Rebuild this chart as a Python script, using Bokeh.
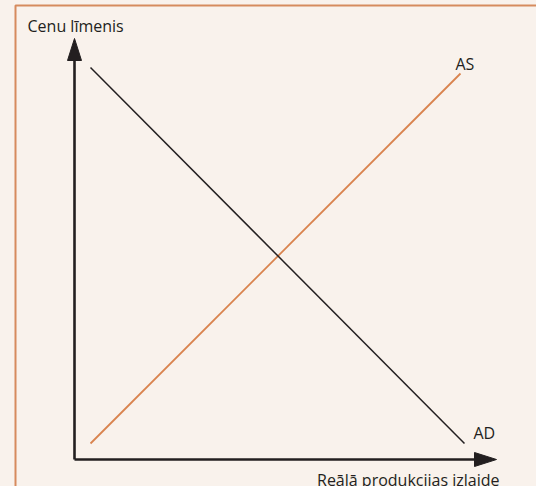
from bokeh.plotting import figure
from bokeh.models import Range1d, Label, GlobalInlineStyleSheet
from bokeh.embed import file_html
from bokeh.resources import INLINE

# ---- data (output, price level) ----
ad_output = [0.4, 9.75]
ad_price = [9.8, 0.4]
as_output = [0.4, 9.65]
as_price = [0.4, 9.65]
axis_output_max = 10.55
axis_price_max = 10.525
curve_names = ["AD", "AS"]
x_title = "Reālā produkcijas izlaide"
y_title = "Cenu līmenis"

# ---- styles ----
BG = "#F9F2EC"
DARK = "#231F20"
ORANGE = "#D9834E"
FRAME = "#D68B5E"
FONT = "Open Sans"
PX = 40.0  # pixels per data unit

p = figure(width=536, height=486,
           x_range=Range1d(-74 / PX, (536 - 74) / PX),
           y_range=Range1d(-(486 - 459) / PX, 459 / PX),
           output_backend="svg", toolbar_location=None,
           x_axis_location=None, y_axis_location=None,
           min_border=0, background_fill_color=BG, border_fill_color=BG,
           outline_line_color=None)
p.grid.visible = False
p.stylesheets = [GlobalInlineStyleSheet(css=f"body{{margin:0;background:{BG};overflow:hidden}}")]

# outer frame (left and top edges; the rest runs off the page)
fx = (15 - 74) / PX
fy = (459 - 5) / PX
p.line([fx, fx, 20], [-20, fy, fy], line_color=FRAME, line_width=2)

# axes with arrow heads
head_len = 22 / PX
head_half = 7 / PX
p.line([0, 0], [0, axis_price_max - head_len * 0.5], line_color=DARK, line_width=2.6)
p.line([0, axis_output_max - head_len * 0.5], [0, 0], line_color=DARK, line_width=2.6)
p.patch([0, -head_half, head_half], [axis_price_max, axis_price_max - head_len, axis_price_max - head_len],
        fill_color=DARK, line_color=DARK, line_width=1)
p.patch([axis_output_max, axis_output_max - head_len, axis_output_max - head_len], [0, head_half, -head_half],
        fill_color=DARK, line_color=DARK, line_width=1)

# curves
p.line(as_output, as_price, line_color=ORANGE, line_width=1.8)
p.line(ad_output, ad_price, line_color=DARK, line_width=1.5)

FS = "16px"
p.add_layout(Label(x=(27 - 74) / PX, y=(459 - 25) / PX, text=y_title, text_font=FONT,
                   text_font_size=FS, text_color=DARK, text_baseline="alphabetic"))
p.add_layout(Label(x=(499 - 74) / PX, y=(459 - 479) / PX, text=x_title, text_font=FONT,
                   text_font_size=FS, text_color=DARK, text_align="right", text_baseline="alphabetic"))
p.add_layout(Label(x=(455 - 74) / PX, y=(459 - 63) / PX, text=curve_names[1], text_font=FONT,
                   text_font_size="16px", text_color=DARK, text_baseline="alphabetic"))
p.add_layout(Label(x=(473 - 74) / PX, y=(459 - 432) / PX, text=curve_names[0], text_font=FONT,
                   text_font_size="16px", text_color=DARK, text_baseline="alphabetic"))

open("out.html", "w").write(file_html(p, INLINE))
